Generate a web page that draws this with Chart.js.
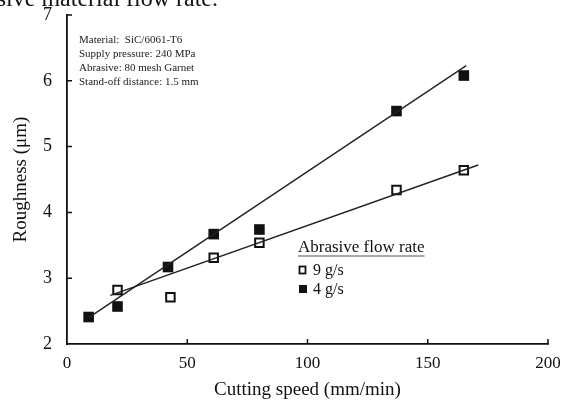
<!DOCTYPE html>
<html>
<head>
<meta charset="utf-8">
<script src="https://cdn.jsdelivr.net/npm/chart.js@4/dist/chart.umd.min.js"></script>
<style>
  html, body { margin: 0; padding: 0; background: #fff; }
  #wrap { width: 566px; height: 401px; position: relative; }
</style>
</head>
<body>
<div id="wrap"><canvas id="chart" width="566" height="401"></canvas></div>
<script>
// Data
const speed9 = [21, 43, 61, 80, 137, 165];
const rough9 = [2.82, 2.71, 3.31, 3.54, 4.34, 4.64];
const speed4 = [9, 21, 42, 61, 80, 137, 165];
const rough4 = [2.41, 2.57, 3.17, 3.67, 3.74, 5.54, 6.08];

// Fitted trend lines (end points)
const fit9X = [18, 171];
const fit9Y = [2.74, 4.72];
const fit4X = [9, 166];
const fit4Y = [2.40, 6.23];

const xTicks = [0, 50, 100, 150, 200];
const yTicks = [2, 3, 4, 5, 6, 7];

const legendTitle = 'Abrasive flow rate';
const seriesNames = ['9 g/s', '4 g/s'];
const noteLines = [
  'Material:  SiC/6061-T6',
  'Supply pressure: 240 MPa',
  'Abrasive: 80 mesh Garnet',
  'Stand-off distance: 1.5 mm'
];
const captionText = 'Abrasive material flow rate.';

const SERIF = '"Liberation Serif", "DejaVu Serif", serif';
const INK = '#111';

function toPoints(xs, ys) {
  return xs.map((x, i) => ({ x: x, y: ys[i] }));
}

// Inward ticks, notes, legend and cropped caption
const decorPlugin = {
  id: 'decor',
  afterDraw(chart) {
    const ctx = chart.ctx;
    const area = chart.chartArea;
    const xs = chart.scales.x;
    const ys = chart.scales.y;

    ctx.save();
    ctx.strokeStyle = INK;
    ctx.lineWidth = 1.5;
    ctx.beginPath();
    xTicks.forEach(v => {
      if (v === xs.min) return;
      const px = xs.getPixelForValue(v);
      ctx.moveTo(px, area.bottom);
      ctx.lineTo(px, area.bottom - 5);
    });
    yTicks.forEach(v => {
      if (v === ys.min) return;
      const py = ys.getPixelForValue(v);
      ctx.moveTo(area.left, py);
      ctx.lineTo(area.left + 5, py);
    });
    ctx.stroke();

    // notes box
    ctx.fillStyle = '#222';
    ctx.font = '11px ' + SERIF;
    ctx.textAlign = 'left';
    ctx.textBaseline = 'middle';
    noteLines.forEach((t, i) => {
      ctx.fillText(t, 79, 40 + i * 14);
    });

    // legend
    ctx.fillStyle = INK;
    ctx.font = '17px ' + SERIF;
    ctx.textBaseline = 'alphabetic';
    ctx.fillText(legendTitle, 298, 252);
    const w = ctx.measureText(legendTitle).width;
    ctx.lineWidth = 1;
    ctx.strokeStyle = '#555';
    ctx.beginPath();
    ctx.moveTo(298, 256);
    ctx.lineTo(298 + w, 256);
    ctx.stroke();

    ctx.font = '16px ' + SERIF;
    ctx.textBaseline = 'middle';
    // open square
    ctx.lineWidth = 1.8;
    ctx.strokeStyle = INK;
    ctx.strokeRect(299.5, 266.5, 6, 7);
    ctx.fillText(seriesNames[0], 313, 271);
    // filled square
    ctx.fillRect(299, 285, 8, 8);
    ctx.fillText(seriesNames[1], 313, 290);

    // cropped caption at the very top
    ctx.font = '24px ' + SERIF;
    ctx.textAlign = 'right';
    ctx.textBaseline = 'alphabetic';
    ctx.fillText(captionText, 218, 6);
    ctx.restore();
  }
};

const ctx = document.getElementById('chart').getContext('2d');
new Chart(ctx, {
  type: 'scatter',
  data: {
    datasets: [
      {
        label: 'fit 4 g/s',
        data: toPoints(fit4X, fit4Y),
        showLine: true,
        borderColor: '#222',
        borderWidth: 1.4,
        pointRadius: 0,
        fill: false
      },
      {
        label: 'fit 9 g/s',
        data: toPoints(fit9X, fit9Y),
        showLine: true,
        borderColor: '#222',
        borderWidth: 1.4,
        pointRadius: 0,
        fill: false
      },
      {
        label: seriesNames[0],
        data: toPoints(speed9, rough9),
        pointStyle: 'rect',
        pointRadius: 6,
        borderWidth: 2,
        borderColor: INK,
        backgroundColor: '#fff',
        showLine: false
      },
      {
        label: seriesNames[1],
        data: toPoints(speed4, rough4),
        pointStyle: 'rect',
        pointRadius: 7.5,
        borderWidth: 0,
        borderColor: INK,
        backgroundColor: INK,
        showLine: false
      }
    ]
  },
  options: {
    responsive: false,
    animation: false,
    layout: { padding: { top: 15, right: 18, left: 0, bottom: 0 } },
    plugins: {
      legend: { display: false },
      tooltip: { enabled: false }
    },
    scales: {
      x: {
        type: 'linear',
        min: 0,
        max: 200,
        afterBuildTicks: s => { s.ticks = xTicks.map(v => ({ value: v })); },
        afterFit: s => { s.height = 57; s.paddingLeft = 0; s.paddingRight = 0; },
        grid: { display: true, drawOnChartArea: false, drawTicks: false },
        border: { display: true, color: INK, width: 1.8 },
        ticks: { color: INK, padding: 9, font: { family: SERIF, size: 17 }, maxRotation: 0 },
        title: {
          display: true,
          text: 'Cutting speed (mm/min)',
          color: INK,
          font: { family: SERIF, size: 19 },
          padding: { top: 0, bottom: 0 }
        }
      },
      y: {
        type: 'linear',
        min: 2,
        max: 7,
        afterBuildTicks: s => { s.ticks = yTicks.map(v => ({ value: v })); },
        afterFit: s => { s.width = 67; s.paddingTop = 0; s.paddingBottom = 0; },
        grid: { display: true, drawOnChartArea: false, drawTicks: false },
        border: { display: true, color: INK, width: 1.8 },
        ticks: { color: INK, padding: 15, font: { family: SERIF, size: 18 } },
        title: {
          display: true,
          text: 'Roughness (μm)',
          color: INK,
          font: { family: SERIF, size: 19 },
          padding: { top: 10, bottom: 0 }
        }
      }
    }
  },
  plugins: [decorPlugin]
});
</script>
</body>
</html>
